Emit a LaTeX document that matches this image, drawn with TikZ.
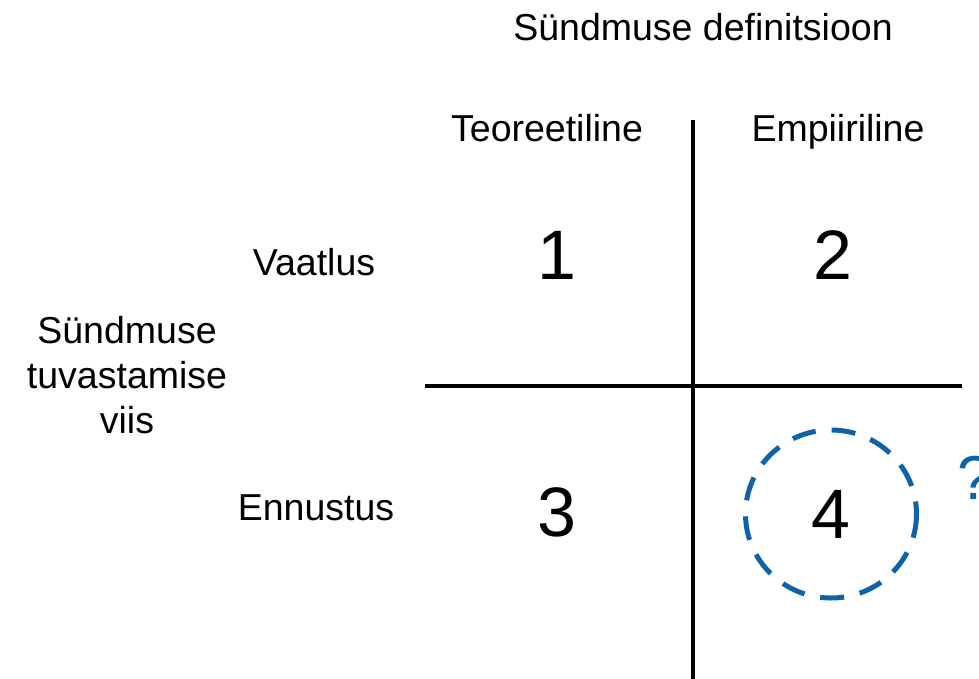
\documentclass[tikz,border=0pt]{standalone}
\usepackage{fontspec}
\setmainfont{Liberation Sans}
\definecolor{qblue}{HTML}{0F62A8}
\begin{document}
\begin{tikzpicture}[x=1pt,y=-1pt,
  lbl/.style={inner sep=0pt,font=\fontsize{37.5}{45}\selectfont},
  num/.style={inner sep=0pt,font=\fontsize{70}{80}\selectfont},
  axis/.style={line width=4pt},
  mark4/.style={draw=qblue,line width=5pt,dash pattern=on 24pt off 16pt}]
\useasboundingbox (0,0) rectangle (979,678);
\clip (0,0) rectangle (979,678);
\node[lbl] (title) at (703,27) {Sündmuse definitsioon};
\node[lbl,anchor=base] (teo) at (547,141) {Teoreetiline};
\node[lbl,anchor=base] (emp) at (838,141) {Empiiriline};
\node[lbl] (vaat) at (314,262) {Vaatlus};
\node[lbl] (ennu) at (316,508) {Ennustus};
\node[lbl,align=center] (viis) at (127,375) {Sündmuse\\tuvastamise\\viis};
\node[num] (n1) at (557,255) {1};
\node[num] (n2) at (833,255) {2};
\node[num] (n3) at (557,512) {3};
\node[num] (n4) at (831,514) {4};
\draw[mark4] (n4) circle [x radius=85.5, y radius=84];
\node[inner sep=0pt,anchor=west,text=qblue,font=\fontsize{62}{70}\selectfont] (q) at (957,478) {?};
\coordinate (vt) at (693,120);
\coordinate (vb) at (693,680);
\coordinate (hl) at (425,386);
\coordinate (hr) at (962,386);
\draw[axis] (vt) -- (vb);
\draw[axis] (hl) -- (hr);
\end{tikzpicture}
\end{document}
